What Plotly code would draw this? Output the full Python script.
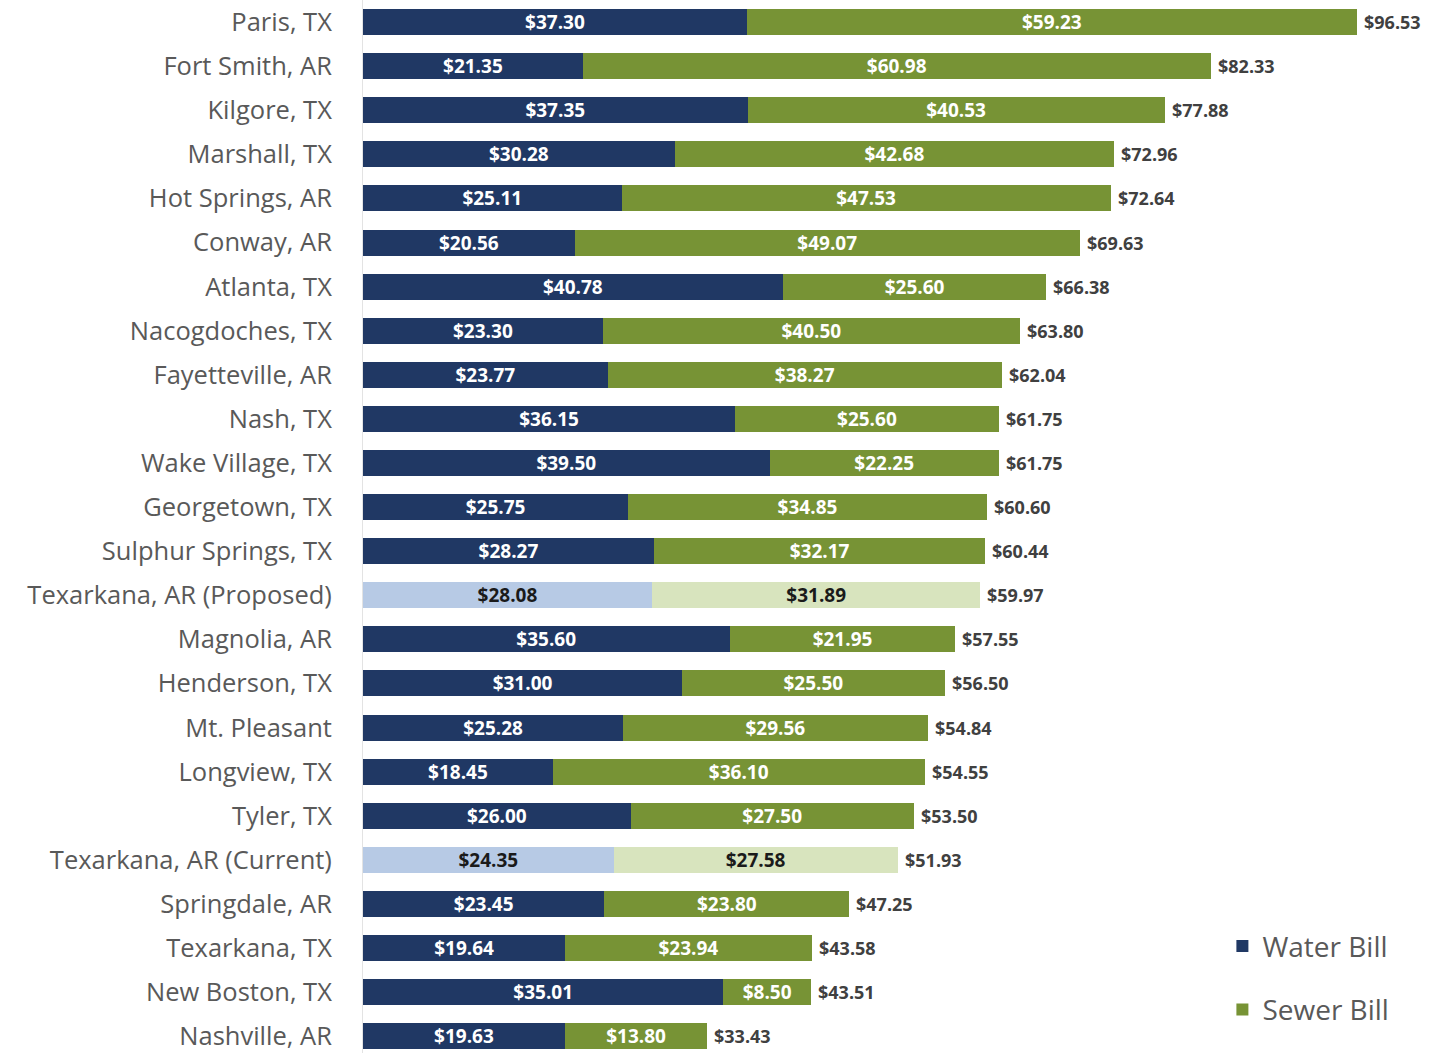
import plotly.graph_objects as go

# Monthly residential bills by city (water + sewer), top to bottom
cities = [
    "Paris, TX", "Fort Smith, AR", "Kilgore, TX", "Marshall, TX", "Hot Springs, AR",
    "Conway, AR", "Atlanta, TX", "Nacogdoches, TX", "Fayetteville, AR", "Nash, TX",
    "Wake Village, TX", "Georgetown, TX", "Sulphur Springs, TX", "Texarkana, AR (Proposed)",
    "Magnolia, AR", "Henderson, TX", "Mt. Pleasant", "Longview, TX", "Tyler, TX",
    "Texarkana, AR (Current)", "Springdale, AR", "Texarkana, TX", "New Boston, TX",
    "Nashville, AR",
]
water_bill = [
    37.30, 21.35, 37.35, 30.28, 25.11, 20.56, 40.78, 23.30, 23.77, 36.15, 39.50, 25.75,
    28.27, 28.08, 35.60, 31.00, 25.28, 18.45, 26.00, 24.35, 23.45, 19.64, 35.01, 19.63,
]
sewer_bill = [
    59.23, 60.98, 40.53, 42.68, 47.53, 49.07, 25.60, 40.50, 38.27, 25.60, 22.25, 34.85,
    32.17, 31.89, 21.95, 25.50, 29.56, 36.10, 27.50, 27.58, 23.80, 23.94, 8.50, 13.80,
]
total_bill = [
    96.53, 82.33, 77.88, 72.96, 72.64, 69.63, 66.38, 63.80, 62.04, 61.75, 61.75, 60.60,
    60.44, 59.97, 57.55, 56.50, 54.84, 54.55, 53.50, 51.93, 47.25, 43.58, 43.51, 33.43,
]
highlighted = ["Texarkana, AR (Proposed)", "Texarkana, AR (Current)"]

WATER, WATER_LIGHT = "#203864", "#B7CAE5"
SEWER, SEWER_LIGHT = "#779335", "#D8E4BE"

is_hl = [c in highlighted for c in cities]
water_colors = [WATER_LIGHT if h else WATER for h in is_hl]
sewer_colors = [SEWER_LIGHT if h else SEWER for h in is_hl]
text_colors = ["#1a1a1a" if h else "white" for h in is_hl]

FONT = "Open Sans"
LABEL_SIZE = 19

fig = go.Figure()
fig.add_trace(go.Bar(
    y=cities, x=water_bill, orientation="h", name="Water Bill",
    legendgroup="water",
    marker=dict(color=water_colors, line=dict(width=0)),
    texttemplate="$%{x:.2f}", textposition="inside", insidetextanchor="middle",
    constraintext="none",
    textfont=dict(family=FONT, size=LABEL_SIZE, color=text_colors, weight="bold"),
    hoverinfo="skip",
))
fig.add_trace(go.Bar(
    y=cities, x=sewer_bill, orientation="h", name="Sewer Bill",
    legendgroup="sewer",
    marker=dict(color=sewer_colors, line=dict(width=0)),
    texttemplate="$%{x:.2f}", textposition="inside", insidetextanchor="middle",
    constraintext="none",
    textfont=dict(family=FONT, size=LABEL_SIZE, color=text_colors, weight="bold"),
    hoverinfo="skip",
))

# Total labels at the end of each stacked bar
for c, t in zip(cities, total_bill):
    fig.add_annotation(
        x=t, y=c, text=f"${t:.2f}", showarrow=False,
        xanchor="left", yanchor="middle", xshift=5,
        font=dict(family=FONT, size=LABEL_SIZE - 1, color="#404040", weight="bold"),
    )

fig.update_layout(
    width=1448, height=1053,
    barmode="stack", bargap=0.41,
    plot_bgcolor="white", paper_bgcolor="white",
    margin=dict(l=363, r=4, t=0, b=0),
    font=dict(family=FONT),
    showlegend=True,
    legend=dict(
        x=0.795, y=0.125, xanchor="left", yanchor="top",
        traceorder="grouped", tracegroupgap=24,
        font=dict(family=FONT, size=28, color="#595959"),
        bgcolor="rgba(0,0,0,0)",
    ),
    xaxis=dict(range=[0, 105], showgrid=False, zeroline=False, showticklabels=False),
    yaxis=dict(
        categoryorder="array", categoryarray=cities,
        range=[23.38, -0.5],
        showgrid=False, showline=True, linecolor="#E3E3E3", linewidth=1,
        ticks="", ticklabelstandoff=25,
        tickfont=dict(family=FONT, size=25.5, color="#595959"),
    ),
)

fig.write_html("out.html")
